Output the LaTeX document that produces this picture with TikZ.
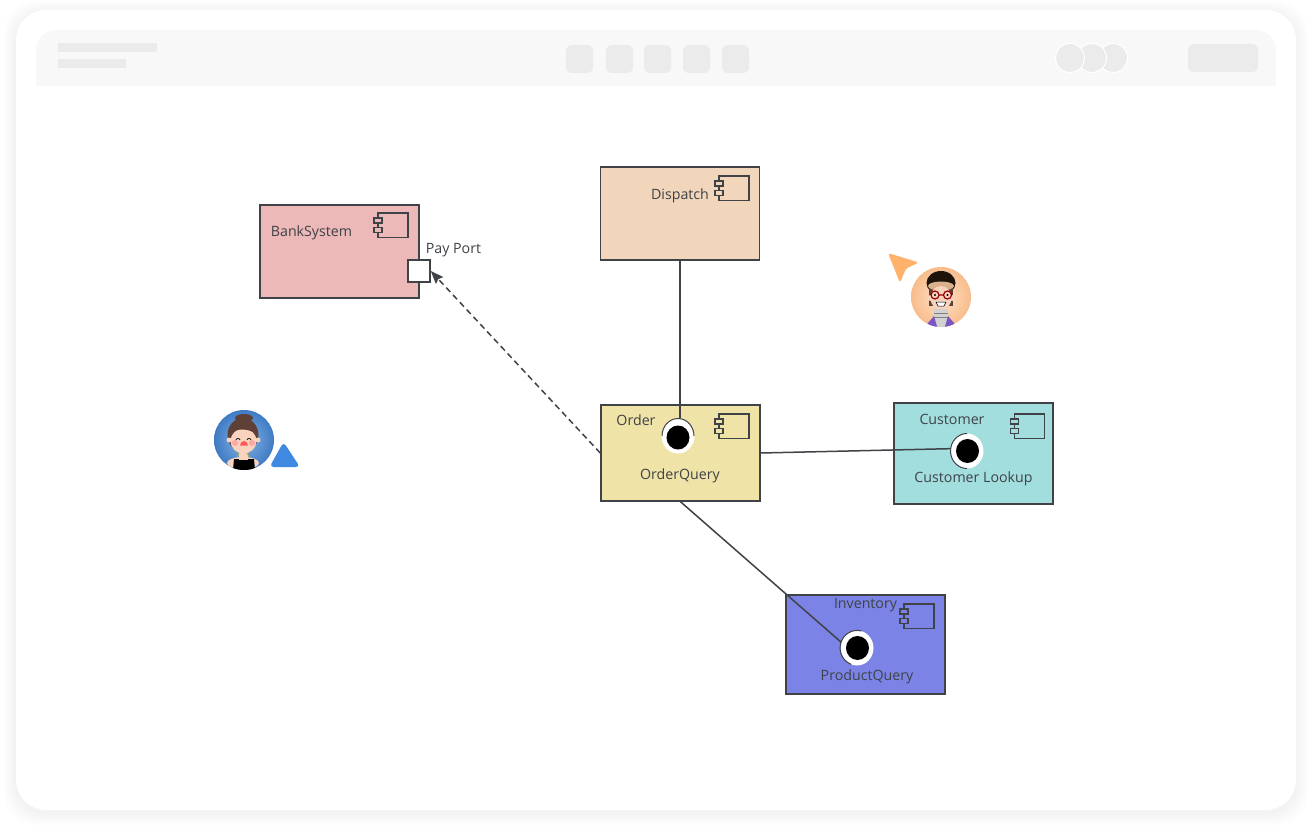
\documentclass[tikz,border=0pt]{standalone}
\usepackage{fontspec}
\setmainfont{Open Sans}
\usetikzlibrary{arrows.meta,calc,positioning,shapes.geometric}
\definecolor{linegray}{HTML}{3F4246}
\definecolor{bankred}{HTML}{ECB8B8}
\definecolor{dispatchtan}{HTML}{F2D6BB}
\definecolor{orderyellow}{HTML}{EFE3A8}
\definecolor{customerteal}{HTML}{A3DEDF}
\definecolor{inventoryblue}{HTML}{7B84E6}
\definecolor{barfill}{HTML}{F8F8F8}
\definecolor{barpart}{HTML}{EBEBEB}
\definecolor{cursorblue}{HTML}{3F8AE0}
\definecolor{cursororange}{HTML}{FFB26B}
\definecolor{peachin}{HTML}{FFE3C8}
\definecolor{peachout}{HTML}{F8BC8C}
\definecolor{skyin}{HTML}{86B5E4}
\definecolor{skyout}{HTML}{3F7BC4}
\definecolor{hairbrown}{HTML}{5E4036}
\definecolor{skintone}{HTML}{F9D3BE}
\definecolor{jacketviolet}{HTML}{7B55C4}
\tikzset{
	compbox/.style={draw=linegray,line width=1.5pt,minimum width=159pt,inner sep=0pt},
	comptext/.style={text=linegray,font=\fontsize{14.2}{16}\selectfont,inner sep=0pt},
	compline/.style={draw=linegray,line width=1.5pt},
	ballwhite/.style={fill=white,ellipse,minimum width=33pt,minimum height=35pt,inner sep=0pt},
	ballblack/.style={fill=black,ellipse,minimum width=23pt,minimum height=24pt,inner sep=0pt},
	ballarc/.style={linegray,line width=1pt},
	barchip/.style={fill=barpart,rounded corners=6pt,minimum width=27pt,minimum height=28pt,inner sep=0pt},
}
\newcommand{\compicon}[3]{
	\draw[compline,line width=1.2pt] (#1+4,#2) rectangle (#1+34,#2+24.5);
	\draw[compline,line width=1.2pt,fill=#3] (#1,#2+5) rectangle (#1+8,#2+10);
	\draw[compline,line width=1.2pt,fill=#3] (#1,#2+14.5) rectangle (#1+8,#2+19.5);
}
\begin{document}
\begin{tikzpicture}[x=1pt,y=-1pt,>={Stealth[length=13pt,width=10pt,inset=2pt]}]
	\useasboundingbox (0,0) rectangle (1312,832);
	\fill[white] (0,0) rectangle (1312,832);
	\foreach \grow in {12,10,8,6,4,2}
		\fill[black,opacity=0.006,rounded corners=32pt] (16-\grow,10-\grow+3) rectangle (1296+\grow,810+\grow+3);
	\fill[white,rounded corners=30pt] (16,10) rectangle (1296,810);

	\fill[barfill,rounded corners=20pt] (36,30) rectangle (1276,70);
	\fill[barfill] (36,50) rectangle (1276,86);
	\fill[barpart] (58,43) rectangle (157,52);
	\fill[barpart] (58,59) rectangle (126,68);
	\foreach \chipx in {579.5,619.5,657.5,696.5,735.5}
		\node[barchip] (chip\chipx) at (\chipx,59) {};
	\foreach \dotx in {1113,1092,1070}
		\fill[barpart,draw=white,line width=1pt] (\dotx,58) circle (14.5);
	\node[barchip,minimum width=70pt] (pill) at (1223,58) {};

	\node[compbox,fill=bankred,minimum height=93pt] (banksystem) at (339.5,251.5) {};
	\node[compbox,fill=dispatchtan,minimum height=93pt] (dispatch) at (680,213.5) {};
	\node[compbox,fill=orderyellow,minimum height=96pt] (order) at (680.5,453) {};
	\node[compbox,fill=customerteal,minimum height=101pt] (customer) at (973.5,453.5) {};
	\node[compbox,fill=inventoryblue,minimum height=99pt] (inventory) at (865.5,644.5) {};

	\compicon{374}{213}{bankred}
	\compicon{715}{176}{dispatchtan}
	\compicon{715}{414}{orderyellow}
	\compicon{1010.5}{414}{customerteal}
	\compicon{900}{604}{inventoryblue}

	\node[comptext] (banklabel) at (311.5,233) {BankSystem};
	\node[comptext] (portlabel) at (453.5,250) {Pay Port};
	\node[comptext] (dispatchlabel) at (680,195.5) {Dispatch};
	\node[comptext] (orderlabel) at (636,420) {Order};
	\node[comptext] (orderquery) at (680,476) {OrderQuery};
	\node[comptext] (customerlabel) at (952,419) {Customer};
	\node[comptext] (customerlookup) at (973.5,478.5) {Customer Lookup};
	\node[comptext] (inventorylabel) at (865.5,605) {Inventory};
	\node[comptext] (productquery) at (867,676.5) {ProductQuery};

	\node[draw=linegray,fill=white,line width=1.5pt,minimum size=22pt,inner sep=0pt] (payport) at (419,271) {};

	\node[ballwhite] (orderball) at (678,436) {};
	\node[ballblack] (orderdot) at (678,437.5) {};
	\node[ballwhite] (customerball) at (967,451) {};
	\node[ballblack] (customerdot) at (967.5,451) {};
	\node[ballwhite] (inventoryball) at (857,648) {};
	\node[ballblack] (inventorydot) at (857.5,648) {};

	\draw[ballarc] (662,436) arc (180:360:16 and 17.5);
	\draw[ballarc] (967,433.5) arc (270:90:16.5 and 17.5);
	\draw[ballarc] (861.5,631) arc (285:110:17 and 17.5);

	\draw[compline] (dispatch.south) -- (dispatch.south |- orderball.north);
	\draw[compline] (order.east) -- (customerball.172);
	\draw[compline] (order.south) -- (inventoryball.160);
	\draw[compline,dash pattern=on 6pt off 4pt,->] (order.west) -- (payport.east);

	\fill[cursororange,rounded corners=3pt] (888,253) -- (919,262.5) -- (906,268.5) -- (900,283) -- cycle;

	\begin{scope}
		\clip (941,297) circle (30);
		\shade[inner color=peachin,outer color=peachout] (911,267) rectangle (971,327);
		\fill[black!85!brown] (941,283) ellipse (14.5 and 12);
		\fill[hairbrown] (929,286) rectangle (953,306);
		\fill[brown!60!white] (941,286) ellipse (13 and 4.5);
		\fill[skintone] (930.5,298) circle (3) (952,298) circle (3);
		\fill[skintone] (941,298) ellipse (10.5 and 12);
		\fill[gray!35!white] (934,309) rectangle (948,327);
		\draw[gray,line width=1pt] (934,313) -- (948,313) (934,317) -- (948,317);
		\fill[jacketviolet] (922,330) -- (934,316) -- (938,330) -- cycle;
		\fill[jacketviolet] (960,330) -- (948,316) -- (944,330) -- cycle;
		\draw[red!60!black,line width=1.2pt] (935,295) circle (4) (947.5,295) circle (4) (939,295) -- (943.5,295);
		\fill[black] (935,295) circle (1.2) (947.5,295) circle (1.2);
		\fill[white,draw=black,line width=0.5pt] (936,302) -- (946,302) -- (944,306) -- (938,306) -- cycle;
	\end{scope}

	\begin{scope}
		\clip (244,440) circle (30);
		\shade[inner color=skyin,outer color=skyout] (214,410) rectangle (274,470);
		\fill[hairbrown] (244,418) ellipse (9 and 4);
		\fill[hairbrown] (243,435) ellipse (15.5 and 17);
		\fill[skintone] (243,463) ellipse (16 and 6);
		\fill[black] (233,470) -- (234,459) -- (254,459) -- (255,470) -- cycle;
		\fill[skintone] (239,452) rectangle (248,460);
		\draw[yellow!70!black,line width=0.7pt] (237,457) arc (180:0:6 and -5);
		\fill[skintone] (229,440) circle (2.5) (258,440) circle (2.5);
		\fill[skintone] (243.5,441) ellipse (13 and 12.5);
		\fill[hairbrown] (230,433) .. controls (237,428) and (250,428) .. (257,435) -- (255,426) -- (232,426) -- cycle;
		\fill[red!35!white] (235,443) circle (3) (252,443) circle (3);
		\draw[black,line width=0.7pt] (236,440) arc (180:360:2 and 1.5) (247,440) arc (180:360:2 and 1.5);
		\fill[red!65!white] (240,445.5) arc (180:0:4 and -4.5) -- cycle;
	\end{scope}

	\fill[cursorblue,rounded corners=4pt] (283.5,442) -- (300,467) -- (269.5,467) -- cycle;
\end{tikzpicture}
\end{document}
